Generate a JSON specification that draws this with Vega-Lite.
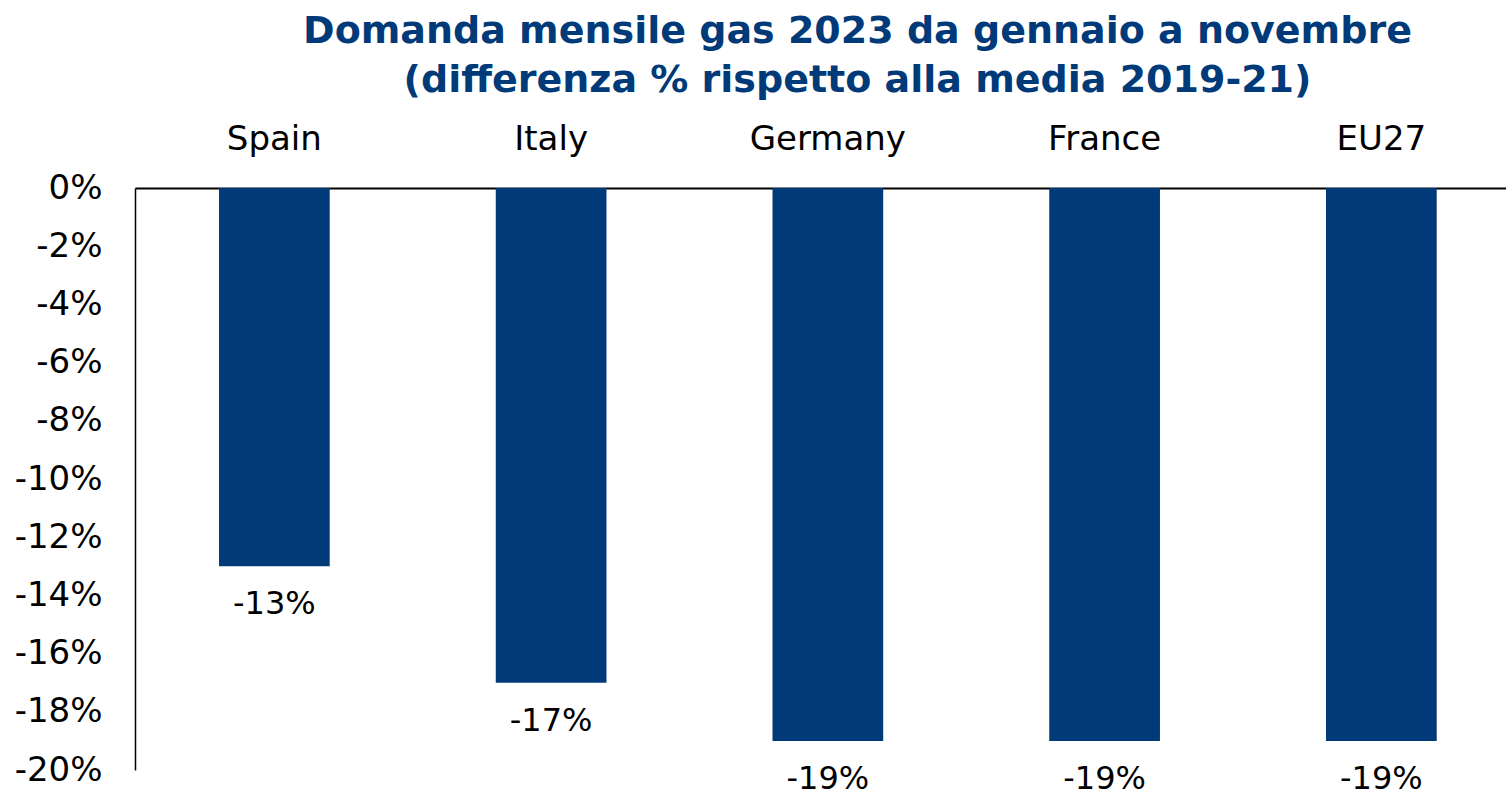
{
  "$schema": "https://vega.github.io/schema/vega-lite/v6.json",
  "width": 1371,
  "height": 582,
  "autosize": {"type": "none"},
  "padding": {"left": 135, "top": 188, "right": 0, "bottom": 26},
  "background": "white",
  "config": {"view": {"stroke": null}},
  "title": {
    "text": ["Domanda mensile gas 2023 da gennaio a novembre", "(differenza % rispetto alla media 2019-21)"],
    "font": "DejaVu Sans",
    "fontWeight": "bold",
    "fontSize": 38,
    "color": "#003A78",
    "lineHeight": 49,
    "anchor": "middle",
    "dx": 37,
    "offset": 22
  },
  "data": {
    "values": [
      {"country": "Spain", "value": -0.13},
      {"country": "Italy", "value": -0.17},
      {"country": "Germany", "value": -0.19},
      {"country": "France", "value": -0.19},
      {"country": "EU27", "value": -0.19}
    ]
  },
  "encoding": {
    "x": {
      "field": "country",
      "type": "nominal",
      "sort": null,
      "scale": {"paddingInner": 0.6, "paddingOuter": 0.277, "align": 0.548},
      "axis": {
        "orient": "top",
        "title": null,
        "ticks": false,
        "labelAngle": 0,
        "labelFont": "DejaVu Sans",
        "labelFontSize": 34,
        "labelColor": "#000000",
        "labelPadding": 32,
        "domainColor": "#000000",
        "domainWidth": 2
      }
    }
  },
  "layer": [
    {
      "mark": {"type": "bar", "color": "#003A78"},
      "encoding": {
        "y": {
          "field": "value",
          "type": "quantitative",
          "scale": {"domain": [-0.2, 0], "nice": false, "zero": false},
          "axis": {
            "title": null,
            "format": ".0%",
            "labelExpr": "replace(datum.label, '\u2212', '-')",
            "values": [0, -0.02, -0.04, -0.06, -0.08, -0.1, -0.12, -0.14, -0.16, -0.18, -0.2],
            "grid": false,
            "ticks": false,
            "labelFont": "DejaVu Sans",
            "labelFontSize": 34,
            "labelColor": "#000000",
            "labelPadding": 33,
            "domainColor": "#000000",
            "domainWidth": 1.5
          }
        }
      }
    },
    {
      "mark": {
        "type": "text",
        "font": "DejaVu Sans",
        "fontSize": 32,
        "color": "#000000",
        "baseline": "middle",
        "align": "center",
        "dy": 38,
        "text": {"expr": "replace(format(datum.value, '.0%'), '\u2212', '-')"}
      },
      "encoding": {
        "y": {"field": "value", "type": "quantitative"}
      }
    }
  ]
}
